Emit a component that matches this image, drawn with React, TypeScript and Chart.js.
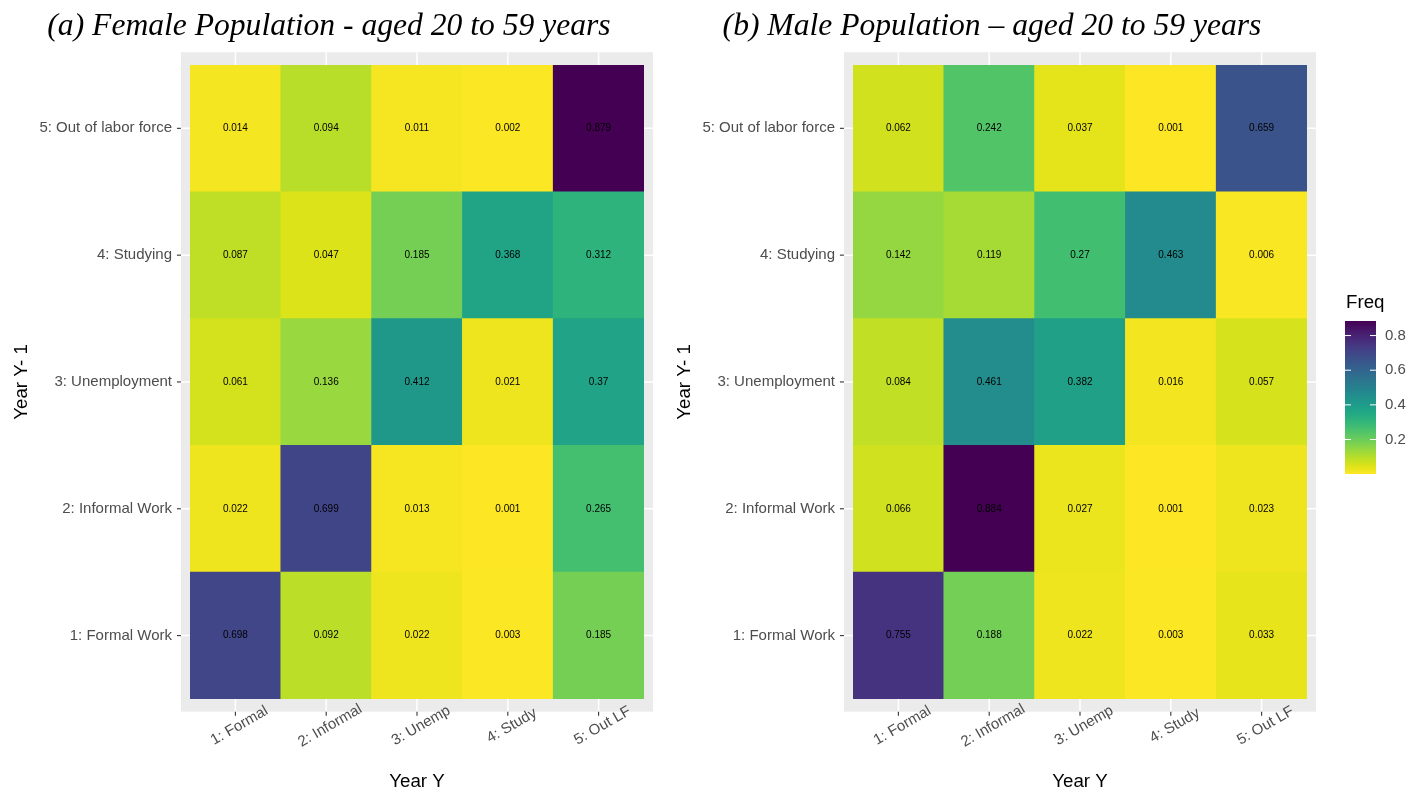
import { useEffect, useRef } from "react";
import { Chart, registerables } from "chart.js";

Chart.register(...registerables);

// Labour-market states: rows are the state in year Y-1, columns the state in year Y
const rowLabels = ["1: Formal Work", "2: Informal Work", "3: Unemployment", "4: Studying", "5: Out of labor force"];
const colLabels = ["1: Formal", "2: Informal", "3: Unemp", "4: Study", "5: Out LF"];

// Female transition frequencies, one array per origin state
const femaleFormalWork = [0.698, 0.092, 0.022, 0.003, 0.185];
const femaleInformalWork = [0.022, 0.699, 0.013, 0.001, 0.265];
const femaleUnemployment = [0.061, 0.136, 0.412, 0.021, 0.37];
const femaleStudying = [0.087, 0.047, 0.185, 0.368, 0.312];
const femaleOutOfLabor = [0.014, 0.094, 0.011, 0.002, 0.879];

// Male transition frequencies, one array per origin state
const maleFormalWork = [0.755, 0.188, 0.022, 0.003, 0.033];
const maleInformalWork = [0.066, 0.884, 0.027, 0.001, 0.023];
const maleUnemployment = [0.084, 0.461, 0.382, 0.016, 0.057];
const maleStudying = [0.142, 0.119, 0.27, 0.463, 0.006];
const maleOutOfLabor = [0.062, 0.242, 0.037, 0.001, 0.659];

const femaleRows = [femaleFormalWork, femaleInformalWork, femaleUnemployment, femaleStudying, femaleOutOfLabor];
const maleRows = [maleFormalWork, maleInformalWork, maleUnemployment, maleStudying, maleOutOfLabor];

const legendTicks = [0.2, 0.4, 0.6, 0.8];

const SANS = "'Liberation Sans', Arial, sans-serif";
const SERIF = "'Liberation Serif', 'Times New Roman', serif";
const TITLE_SIZE = 18.7;
const TICK_SIZE = 15;
const CANVAS_H = 793;

// Viridis colour stops, 0 = dark purple, 1 = yellow
const VIRIDIS = [
  "#440154", "#471365", "#482475", "#463480", "#414487", "#3B528B", "#355F8D",
  "#2F6C8E", "#2A788E", "#25848E", "#21918C", "#1E9C89", "#22A884", "#2FB47C",
  "#44BF70", "#5EC962", "#7AD151", "#9BD93C", "#BDDF26", "#DFE318", "#FDE725",
];

function hexToRgb(h: string) {
  return [parseInt(h.slice(1, 3), 16), parseInt(h.slice(3, 5), 16), parseInt(h.slice(5, 7), 16)];
}

function viridis(t: number) {
  const c = Math.min(1, Math.max(0, t)) * (VIRIDIS.length - 1);
  const i = Math.min(VIRIDIS.length - 2, Math.floor(c));
  const f = c - i;
  const a = hexToRgb(VIRIDIS[i]);
  const b = hexToRgb(VIRIDIS[i + 1]);
  const m = a.map((v, k) => Math.round(v + (b[k] - v) * f));
  return `rgb(${m[0]},${m[1]},${m[2]})`;
}

// Reversed viridis: low frequencies are yellow, high ones purple
function fillFor(v: number, min: number, max: number) {
  return viridis(1 - (v - min) / (max - min));
}

function rangeOf(rows: number[][]) {
  const all = rows.flat();
  return [Math.min(...all), Math.max(...all)];
}

function line(ctx: CanvasRenderingContext2D, x1: number, y1: number, x2: number, y2: number) {
  ctx.beginPath();
  ctx.moveTo(x1, y1);
  ctx.lineTo(x2, y2);
  ctx.stroke();
}

// Grey panel, white grid, axis ticks, cell values and slanted column labels
const panelPlugin = {
  id: "ggPanel",
  beforeDatasetsDraw(chart: any) {
    const { ctx, chartArea: a, scales } = chart;
    const xs = scales.x;
    const ys = scales.y;
    const padX = (a.right - a.left) / colLabels.length * 0.1;
    const padY = (a.bottom - a.top) / rowLabels.length * 0.1;
    ctx.save();
    ctx.fillStyle = "#EBEBEB";
    ctx.fillRect(a.left - padX, a.top - padY, a.right - a.left + 2 * padX, a.bottom - a.top + 2 * padY);
    ctx.strokeStyle = "#FFFFFF";
    ctx.lineWidth = 1.5;
    colLabels.forEach((_, i) => {
      const px = xs.getPixelForValue(i);
      line(ctx, px, a.top - padY, px, a.bottom + padY);
    });
    ys.ticks.forEach((t: any) => {
      const py = ys.getPixelForValue(t.value);
      line(ctx, a.left - padX, py, a.right + padX, py);
    });
    ctx.strokeStyle = "#333333";
    ctx.lineWidth = 1.1;
    colLabels.forEach((_, i) => {
      const px = xs.getPixelForValue(i);
      line(ctx, px, a.bottom + padY, px, a.bottom + padY + 4);
    });
    ys.ticks.forEach((t: any) => {
      const py = ys.getPixelForValue(t.value);
      line(ctx, a.left - padX - 4, py, a.left - padX, py);
    });
    ctx.restore();
  },
  afterDatasetsDraw(chart: any) {
    const { ctx, chartArea: a, scales } = chart;
    const xs = scales.x;
    const padY = (a.bottom - a.top) / rowLabels.length * 0.1;
    ctx.save();
    ctx.fillStyle = "#000000";
    ctx.font = `10px ${SANS}`;
    ctx.textAlign = "center";
    ctx.textBaseline = "middle";
    chart.data.datasets.forEach((ds: any, r: number) => {
      const meta = chart.getDatasetMeta(r);
      meta.data.forEach((bar: any, c: number) => {
        const p = bar.getProps(["x", "y", "base"], true);
        ctx.fillText(String(ds.freq[c]), p.x, (p.y + p.base) / 2);
      });
    });
    ctx.fillStyle = "#4D4D4D";
    ctx.font = `${TICK_SIZE}px ${SANS}`;
    colLabels.forEach((lab, i) => {
      const px = xs.getPixelForValue(i);
      ctx.save();
      ctx.translate(px + 4, a.bottom + padY + 14);
      ctx.rotate(-Math.PI / 6);
      ctx.fillText(lab, 0, 0);
      ctx.restore();
    });
    ctx.restore();
  },
};

// Continuous colour bar for the frequency scale
function makeLegendPlugin(min: number, max: number) {
  return {
    id: "freqLegend",
    afterDraw(chart: any) {
      const { ctx, chartArea: a } = chart;
      const left = a.right + 38;
      const width = 31;
      const top = 321;
      const bottom = 474;
      const yOf = (v: number) => bottom - (v - min) / (max - min) * (bottom - top);
      ctx.save();
      const grad = ctx.createLinearGradient(0, bottom, 0, top);
      for (let k = 0; k <= 20; k++) {
        grad.addColorStop(k / 20, viridis(1 - k / 20));
      }
      ctx.fillStyle = grad;
      ctx.fillRect(left, top, width, bottom - top);
      ctx.strokeStyle = "#FFFFFF";
      ctx.lineWidth = 1;
      ctx.fillStyle = "#4D4D4D";
      ctx.font = `${TICK_SIZE}px ${SANS}`;
      ctx.textAlign = "left";
      ctx.textBaseline = "middle";
      legendTicks.forEach((v) => {
        const py = yOf(v);
        line(ctx, left, py, left + 6, py);
        line(ctx, left + width - 6, py, left + width, py);
        ctx.fillText(String(v), left + width + 9, py);
      });
      ctx.fillStyle = "#000000";
      ctx.font = `${TITLE_SIZE}px ${SANS}`;
      ctx.fillText("Freq", left + 1, 303);
      ctx.restore();
    },
  };
}

function makeConfig(rows: number[][], title: string, padRight: number, withLegend: boolean): any {
  const [min, max] = rangeOf(rows);
  const datasets = rows.map((vals, r) => ({
    label: rowLabels[r],
    data: colLabels.map(() => 1),
    freq: vals,
    backgroundColor: vals.map((v) => fillFor(v, min, max)),
    borderWidth: 0,
    barPercentage: 1,
    categoryPercentage: 1,
  }));
  const plugins: any[] = [panelPlugin];
  if (withLegend) plugins.push(makeLegendPlugin(min, max));
  return {
    type: "bar",
    data: { labels: colLabels, datasets },
    plugins,
    options: {
      animation: false,
      responsive: false,
      devicePixelRatio: 1,
      layout: { padding: { left: 0, top: 0, right: padRight, bottom: 0 } },
      plugins: {
        legend: { display: false },
        tooltip: { enabled: false },
        title: {
          display: true,
          text: title,
          color: "#000000",
          font: { family: SERIF, size: 31.6, style: "italic", weight: "normal", lineHeight: 1.2 },
          padding: { top: 8, bottom: 19 },
        },
      },
      scales: {
        x: {
          type: "category",
          stacked: true,
          offset: true,
          grid: { display: false, drawTicks: false },
          border: { display: false },
          ticks: { display: false },
          title: {
            display: true,
            text: "Year Y",
            color: "#000000",
            font: { family: SANS, size: TITLE_SIZE, lineHeight: 1.2 },
            padding: { top: 0, bottom: 0 },
          },
          afterFit(scale: any) {
            scale.height = 94;
          },
        },
        y: {
          type: "linear",
          stacked: true,
          min: 0,
          max: rowLabels.length,
          grid: { display: false, drawTicks: false },
          border: { display: false },
          afterBuildTicks(scale: any) {
            scale.ticks = rowLabels.map((_, i) => ({ value: i + 0.5 }));
          },
          ticks: {
            autoSkip: false,
            color: "#4D4D4D",
            font: { family: SANS, size: TICK_SIZE },
            padding: 18,
            callback: (_v: any, i: number) => rowLabels[i],
          },
          title: {
            display: true,
            text: "Year Y- 1",
            color: "#000000",
            font: { family: SANS, size: TITLE_SIZE, lineHeight: 0.8 },
            padding: { top: 0, bottom: 0 },
          },
          afterFit(scale: any) {
            scale.width = 176;
          },
        },
      },
    },
  };
}

function Heatmap(props: { rows: number[][]; title: string; left: number; width: number; padRight: number; legend: boolean }) {
  const ref = useRef<HTMLCanvasElement>(null);
  useEffect(() => {
    if (!ref.current) return;
    const chart = new Chart(ref.current, makeConfig(props.rows, props.title, props.padRight, props.legend));
    return () => chart.destroy();
  }, []);
  return (
    <canvas
      ref={ref}
      width={props.width}
      height={CANVAS_H}
      style={{ position: "absolute", left: props.left, top: 0, width: props.width, height: CANVAS_H }}
    />
  );
}

export default function App() {
  return (
    <div style={{ position: "absolute", left: 0, top: 0, width: 1411, height: CANVAS_H, background: "#FFFFFF", overflow: "hidden" }}>
      <Heatmap rows={femaleRows} title="(a) Female Population - aged 20 to 59 years" left={14} width={663} padRight={33} legend={false} />
      <Heatmap rows={maleRows} title="(b) Male Population – aged 20 to 59 years" left={677} width={734} padRight={104} legend={true} />
    </div>
  );
}
